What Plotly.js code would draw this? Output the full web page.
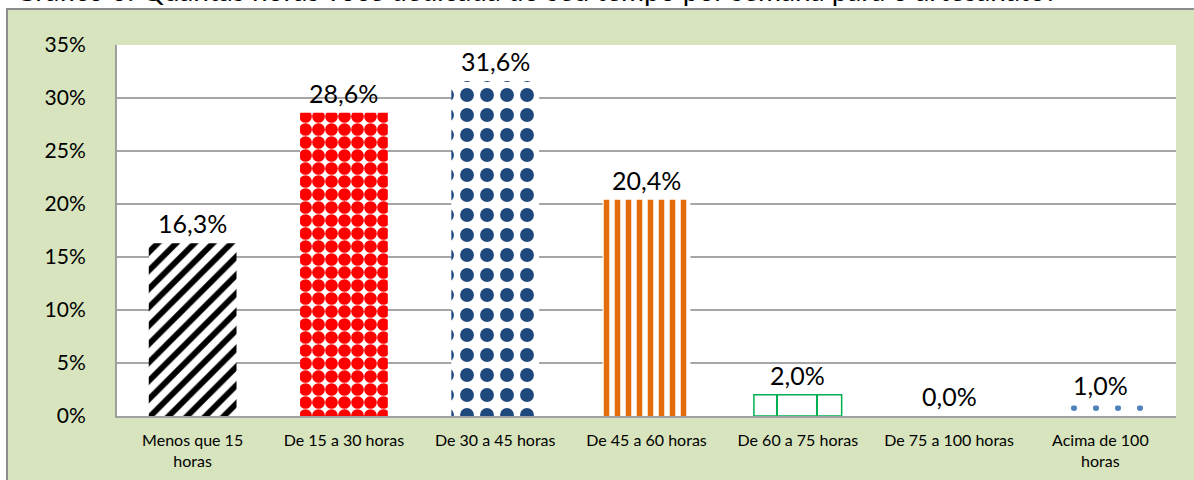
<!DOCTYPE html>
<html>
<head>
<meta charset="utf-8">
<script src="https://cdn.plot.ly/plotly-3.0.1.min.js"></script>
<style>html,body{margin:0;padding:0;background:#fff;}#chart{width:1194px;height:480px;}</style>
</head>
<body>
<div id="chart"></div>
<script>
var categories = ["Menos que 15<br>horas", "De 15 a 30 horas", "De 30 a 45 horas", "De 45 a 60 horas", "De 60 a 75 horas", "De 75 a 100 horas", "Acima de 100<br>horas"];
var values = [16.3, 28.6, 31.6, 20.4, 2.0, 0.0, 1.0];
var yTicks = [0, 5, 10, 15, 20, 25, 30, 35];
var chartTitle = "Gráfico 6: Quantas horas você dedicada do seu tempo por semana para o artesanato?";

var patShapes = ["/", ".", ".", "|", "+", "", "."];
var patFg = ["#000000", "#FF0000", "#1F497D", "#E46C0A", "#00B050", "#FFFFFF", "#4F81BD"];
var patSize = [13, 13, 20, 11, 40, 10, 22];
var patSolid = [0.45, 0.75, 0.38, 0.5, 0.1, 0.3, 0.06];
var outlineColors = ["#FFFFFF", "#FFFFFF", "#FFFFFF", "#FFFFFF", "#00B050", "#FFFFFF", "#FFFFFF"];
var outlineWidths = [0, 0, 0, 0, 1.5, 0, 0];

var W = 1194, H = 480, L = 117, R = 18, T = 45, B = 64;
var pw = W - L - R, ph = H - T - B;
function px2x(px){ return (px - L) / pw; }
function py2y(py){ return (H - B - py) / ph; }

var labels = values.map(function(v){ return v.toFixed(1).replace('.', ',') + '%'; });

var trace = {
  type: 'bar',
  x: categories,
  y: values,
  marker: {
    color: '#FFFFFF',
    line: {width: outlineWidths, color: outlineColors},
    pattern: {
      shape: patShapes,
      fgcolor: patFg,
      bgcolor: '#FFFFFF',
      fgopacity: 1,
      size: patSize,
      solidity: patSolid,
      fillmode: 'overlay'
    }
  },
  hoverinfo: 'none'
};

var annotations = categories.map(function(c, i){
  return {x: c, y: values[i], xref: 'x', yref: 'y', text: labels[i], showarrow: false,
          yanchor: 'bottom', yshift: 3, font: {family: 'Lato, sans-serif', size: 25, color: '#000'}};
});
annotations.push({
  xref: 'paper', yref: 'paper', x: px2x(13), y: py2y(9), xanchor: 'left', yanchor: 'bottom',
  text: chartTitle, showarrow: false, font: {family: 'Lato, sans-serif', size: 28, color: '#000'}
});

var layout = {
  width: W, height: H,
  margin: {l: L, r: R, t: T, b: B, pad: 0},
  paper_bgcolor: '#FFFFFF',
  plot_bgcolor: 'rgba(0,0,0,0)',
  bargap: 0.42,
  showlegend: false,
  font: {family: 'Lato, sans-serif', color: '#000'},
  xaxis: {
    type: 'category',
    showline: true, linecolor: '#A0A0A0', linewidth: 2,
    showgrid: false, ticks: '',
    tickfont: {family: 'Lato, sans-serif', size: 16, color: '#000'},
    ticklabelstandoff: 9,
    fixedrange: true
  },
  yaxis: {
    range: [0, 35],
    tickvals: yTicks,
    ticktext: yTicks.map(function(t){ return t + '%'; }),
    showline: true, linecolor: '#A0A0A0', linewidth: 2,
    showgrid: true, gridcolor: '#A6A6A6', gridwidth: 1.6,
    zeroline: false, ticks: '',
    tickfont: {family: 'Lato, sans-serif', size: 21, color: '#000'},
    ticklabelstandoff: 25,
    fixedrange: true
  },
  shapes: [
    {type: 'rect', xref: 'paper', yref: 'paper', layer: 'below',
     x0: px2x(7), x1: px2x(1210), y0: py2y(500), y1: py2y(9),
     fillcolor: '#D7E4BD', line: {color: '#8C8C8C', width: 2}},
    {type: 'rect', xref: 'paper', yref: 'paper', layer: 'below',
     x0: 0, x1: 1, y0: 0, y1: 1, fillcolor: '#FFFFFF', line: {width: 0}}
  ],
  annotations: annotations
};

Plotly.newPlot('chart', [trace], layout, {displayModeBar: false, staticPlot: true});
</script>
</body>
</html>
